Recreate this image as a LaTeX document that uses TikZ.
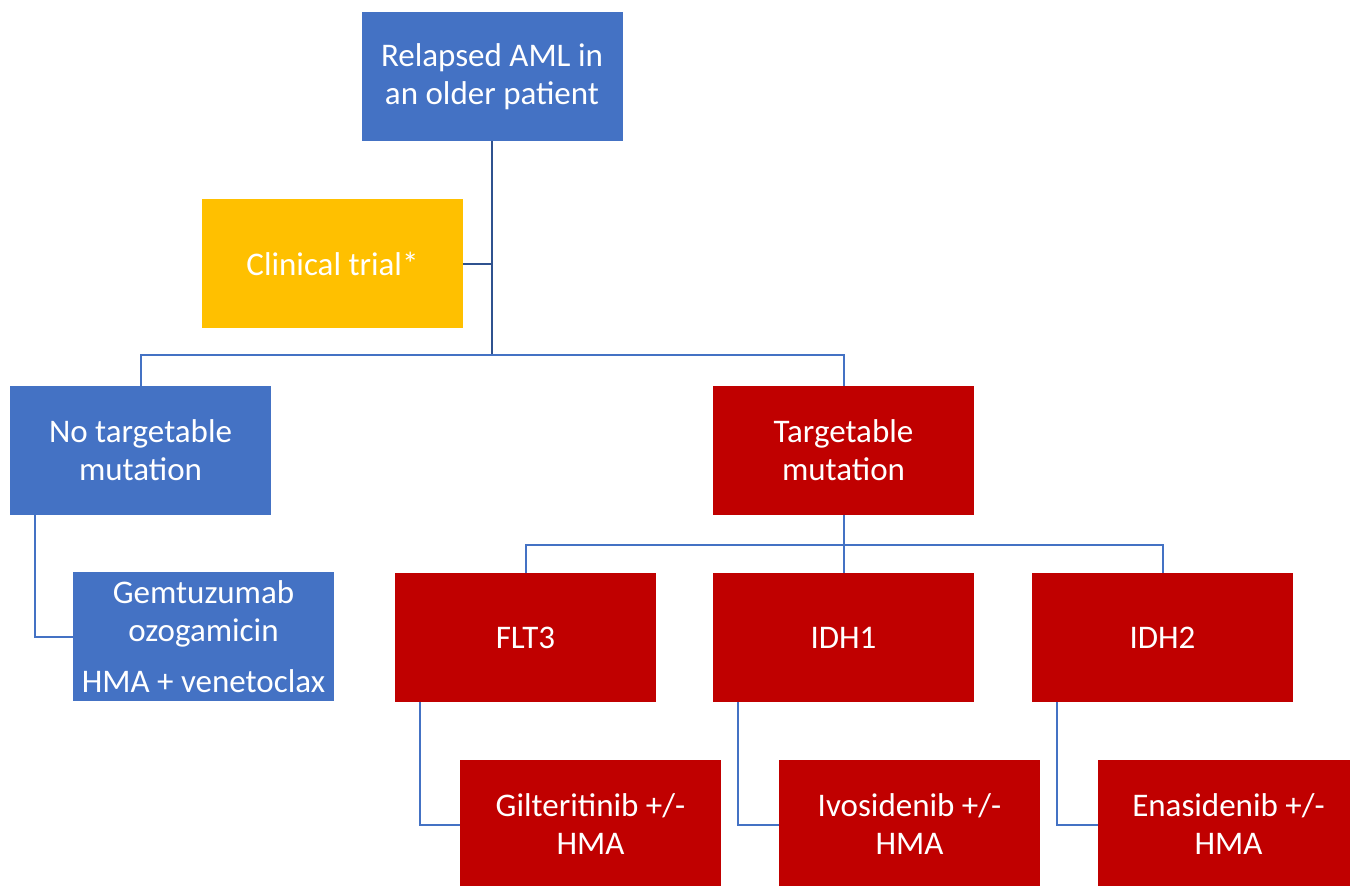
\documentclass[tikz,border=0pt]{standalone}
\usepackage{fontspec}
\setmainfont{Carlito}
\definecolor{boxblue}{HTML}{4472C4}
\definecolor{boxgold}{HTML}{FFC000}
\definecolor{boxred}{HTML}{C00000}
\definecolor{linedark}{HTML}{2F528F}
\tikzset{
	box/.style={minimum width=130.5pt, minimum height=64.5pt, inner sep=0pt, align=center, text=white,
		font=\fontsize{16.5}{19}\selectfont},
	bluebox/.style={box, fill=boxblue},
	goldbox/.style={box, fill=boxgold},
	redbox/.style={box, fill=boxred},
	link/.style={draw=boxblue, line width=1pt},
	toplink/.style={draw=linedark, line width=1pt}
}

\begin{document}
\begin{tikzpicture}[x=0.5pt, y=-0.5pt]
	\useasboundingbox (0, 0) rectangle (1350, 885);
	\clip (0, 0) rectangle (1350, 885);
	\node[bluebox] (top) at (492, 76.5) {Relapsed AML in\\an older patient};
	\node[goldbox] (trial) at (332.5, 263.5) {Clinical trial*};
	\node[bluebox] (notarget) at (140.5, 450.5) {No targetable\\mutation};
	\node[redbox] (target) at (843.5, 450.5) {Targetable\\mutation};
	\node[bluebox] (gem) at (203.5, 636.5) {Gemtuzumab\\ozogamicin\\[6.5pt]HMA + venetoclax};
	\node[redbox] (flt) at (525.5, 637.5) {FLT3};
	\node[redbox] (idha) at (843.5, 637.5) {IDH1};
	\node[redbox] (idhb) at (1162.5, 637.5) {IDH2};
	\node[redbox] (gilt) at (590.5, 824.5) {Gilteritinib +/-\\HMA};
	\node[redbox] (ivo) at (909.5, 824.5) {Ivosidenib +/-\\HMA};
	\node[redbox] (ena) at (1228.5, 824.5) {Enasidenib +/-\\HMA};
	\coordinate (busa) at (492, 355);
	\coordinate (busb) at (843.5, 545);
	% first level
	\draw[toplink] (top.south) -- (busa);
	\draw[toplink] (trial.east) -- (trial.east -| busa);
	\draw[link] (notarget.north) |- (target.north |- busa) -- (target.north);
	% mutation branches
	\draw[link] (target.south) -- (busb) -- (idha.north);
	\draw[link] (flt.north) |- (idhb.north |- busb) -- (idhb.north);
	% treatments
	\draw[link] ([xshift=12.5pt]notarget.south west) |- (gem.west);
	\draw[link] ([xshift=12.5pt]flt.south west) |- (gilt.west);
	\draw[link] ([xshift=12.5pt]idha.south west) |- (ivo.west);
	\draw[link] ([xshift=12.5pt]idhb.south west) |- (ena.west);
\end{tikzpicture}
\end{document}
